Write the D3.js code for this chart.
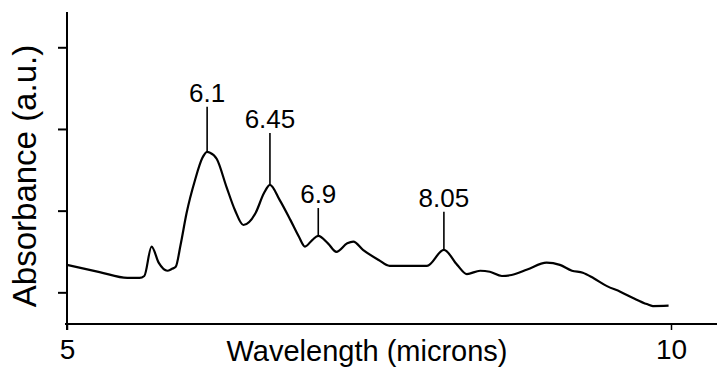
<!DOCTYPE html>
<html>
<head>
<meta charset="utf-8">
<script src="https://cdn.jsdelivr.net/npm/d3@7"></script>
<style>
  html, body { margin: 0; padding: 0; background: #fff; }
  #chart-container { width: 717px; height: 367px; }
</style>
</head>
<body>
<div id="chart-container"></div>
<script>
// spectrum (wavelength in microns, absorbance in a.u.)
const wavelength = [5.00, 5.27, 5.50, 5.60, 5.64, 5.70, 5.76, 5.83, 5.87, 5.90,
  5.94, 5.99, 6.06, 6.12, 6.16, 6.18, 6.24, 6.32, 6.39, 6.46,
  6.56, 6.63, 6.68, 6.76, 6.85, 6.92, 6.97, 7.03, 7.08, 7.16,
  7.23, 7.32, 7.37, 7.45, 7.58, 7.67, 7.98, 8.12, 8.23, 8.31,
  8.42, 8.50, 8.60, 8.68, 8.81, 8.97, 9.08, 9.18, 9.27, 9.36,
  9.47, 9.58, 9.69, 9.80, 9.85, 9.98];
const absorbance = [0.184, 0.162, 0.144, 0.144, 0.150, 0.240, 0.190, 0.166, 0.172, 0.178,
  0.245, 0.343, 0.444, 0.511, 0.530, 0.528, 0.508, 0.423, 0.352, 0.306,
  0.342, 0.403, 0.429, 0.383, 0.321, 0.270, 0.240, 0.260, 0.273, 0.250,
  0.224, 0.250, 0.255, 0.230, 0.199, 0.181, 0.181, 0.230, 0.184, 0.156,
  0.166, 0.163, 0.150, 0.153, 0.170, 0.191, 0.184, 0.166, 0.160, 0.143,
  0.119, 0.102, 0.082, 0.064, 0.058, 0.059];

// labelled peaks
const peakLabels = ['6.1', '6.45', '6.9', '8.05'];
const peakX = [6.16, 6.68, 7.08, 8.12];
const peakY = [0.530, 0.429, 0.273, 0.230];
const peakTop = [0.668, 0.588, 0.358, 0.347];

const xTicks = [5, 10];
const yTicks = [0.1, 0.35, 0.6, 0.85];

document.addEventListener('DOMContentLoaded', function () {
  const width = 717, height = 367;
  const font = '"Liberation Sans", Arial, sans-serif';

  const svg = d3.select('#chart-container')
    .append('svg')
    .attr('width', width)
    .attr('height', height);

  const x = d3.scaleLinear().domain([5, 10]).range([67, 671]);
  const y = d3.scaleLinear().domain([0, 0.958]).range([325, 12]);
  const axisY = 324;

  // x axis line runs to the right edge
  svg.append('line')
    .attr('x1', 65).attr('x2', width)
    .attr('y1', axisY).attr('y2', axisY)
    .attr('stroke', '#000').attr('stroke-width', 2);

  const xAxis = svg.append('g')
    .attr('transform', `translate(0,${axisY})`)
    .call(d3.axisBottom(x).tickValues(xTicks).tickSize(6).tickPadding(9).tickFormat(d3.format('d')));
  xAxis.select('.domain').remove();
  xAxis.selectAll('line').attr('stroke', '#000').attr('stroke-width', 1.5);
  xAxis.selectAll('text')
    .style('font-family', font)
    .style('font-size', '28px')
    .attr('fill', '#000');

  // y axis
  const yAxis = svg.append('g')
    .attr('transform', 'translate(67,0)')
    .call(d3.axisLeft(y).tickValues(yTicks).tickSize(9).tickFormat(''));
  yAxis.select('.domain')
    .attr('d', `M0,${y.range()[1]}V${axisY + 6}`)
    .attr('stroke', '#000').attr('stroke-width', 2);
  yAxis.selectAll('line').attr('stroke', '#000').attr('stroke-width', 2);

  // spectrum
  const points = wavelength.map((w, i) => [w, absorbance[i]]);
  const line = d3.line()
    .x(d => x(d[0]))
    .y(d => y(d[1]))
    .curve(d3.curveMonotoneX);

  svg.append('path')
    .datum(points)
    .attr('d', line)
    .attr('fill', 'none')
    .attr('stroke', '#000')
    .attr('stroke-width', 2.2)
    .attr('stroke-linejoin', 'round');

  // peak markers
  const peaks = svg.selectAll('.peak')
    .data(peakLabels.map((t, i) => ({ t, px: peakX[i], py: peakY[i], top: peakTop[i] })))
    .enter()
    .append('g')
    .attr('class', 'peak');

  peaks.append('line')
    .attr('x1', d => x(d.px)).attr('x2', d => x(d.px))
    .attr('y1', d => y(d.py)).attr('y2', d => y(d.top))
    .attr('stroke', '#000').attr('stroke-width', 1.6);

  peaks.append('text')
    .attr('x', d => x(d.px))
    .attr('y', d => y(d.top) - 5)
    .attr('text-anchor', 'middle')
    .style('font-family', font)
    .style('font-size', '26px')
    .attr('fill', '#000')
    .text(d => d.t);

  // axis titles
  svg.append('text')
    .attr('x', 367)
    .attr('y', 361)
    .attr('text-anchor', 'middle')
    .style('font-family', font)
    .style('font-size', '29px')
    .attr('fill', '#000')
    .text('Wavelength (microns)');

  svg.append('text')
    .attr('transform', 'translate(36,176) rotate(-90)')
    .attr('text-anchor', 'middle')
    .style('font-family', font)
    .style('font-size', '33px')
    .attr('fill', '#000')
    .text('Absorbance (a.u.)');
});
</script>
</body>
</html>
